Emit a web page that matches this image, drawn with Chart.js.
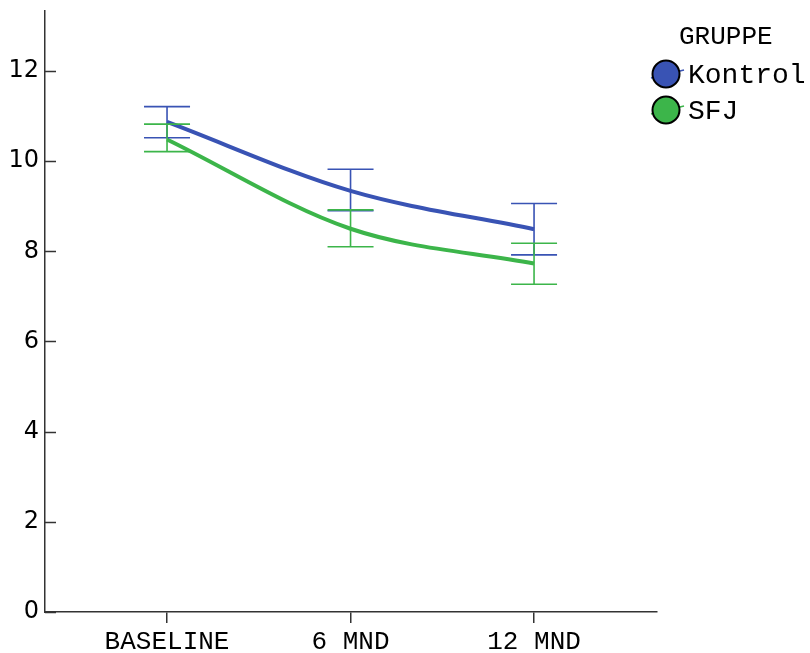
<!DOCTYPE html>
<html>
<head>
<meta charset="utf-8">
<script src="https://cdn.jsdelivr.net/npm/chart.js@4"></script>
<style>
html,body{margin:0;padding:0;background:#fff;}
#wrap{width:810px;height:653px;position:relative;}
</style>
</head>
<body>
<div id="wrap"><canvas id="c" width="810" height="653"></canvas></div>
<script>
const categories = ["BASELINE", "6 MND", "12 MND"];
const yTicks = [0, 2, 4, 6, 8, 10, 12];
const legendTitle = "GRUPPE";
const kontrolMean = [10.87, 9.34, 8.49];
const kontrolLow  = [10.52, 8.90, 7.92];
const kontrolHigh = [11.21, 9.82, 9.06];
const sfjMean = [10.48, 8.50, 7.73];
const sfjLow  = [10.21, 8.10, 7.27];
const sfjHigh = [10.82, 8.92, 8.18];

const BLUE = "#3953b4";
const GREEN = "#3cb54a";
const AXIS = "#333333";

const series = [
  {label: "Kontrol", mean: kontrolMean, low: kontrolLow, high: kontrolHigh, color: BLUE},
  {label: "SFJ", mean: sfjMean, low: sfjLow, high: sfjHigh, color: GREEN}
];

const errorBars = {
  id: "errorBars",
  afterDatasetsDraw(chart) {
    const ctx = chart.ctx, xs = chart.scales.x, ys = chart.scales.y;
    ctx.save();
    series.forEach(s => {
      ctx.strokeStyle = s.color;
      ctx.lineWidth = 1.6;
      s.mean.forEach((m, i) => {
        const x = xs.getPixelForValue(i);
        const yl = ys.getPixelForValue(s.low[i]);
        const yh = ys.getPixelForValue(s.high[i]);
        ctx.beginPath();
        ctx.moveTo(x, yl); ctx.lineTo(x, yh);
        ctx.moveTo(x - 23, yl); ctx.lineTo(x + 23, yl);
        ctx.moveTo(x - 23, yh); ctx.lineTo(x + 23, yh);
        ctx.stroke();
      });
    });
    ctx.restore();
  }
};

const extras = {
  id: "extras",
  afterDraw(chart) {
    const ctx = chart.ctx, ys = chart.scales.y, area = chart.chartArea;
    ctx.save();
    ctx.strokeStyle = AXIS;
    ctx.lineWidth = 1.5;
    yTicks.forEach(v => {
      const y = Math.round(ys.getPixelForValue(v)) + 0.5;
      ctx.beginPath();
      ctx.moveTo(area.left, y); ctx.lineTo(area.left + 11, y);
      ctx.stroke();
    });
    ctx.fillStyle = "#000";
    ctx.textBaseline = "middle";
    ctx.textAlign = "left";
    ctx.font = "26px 'Liberation Mono'";
    ctx.fillText(legendTitle, 679, 37);
    ctx.font = "28px 'Liberation Mono'";
    series.forEach((s, i) => {
      const cy = 74 + i * 36, cx = 666;
      ctx.strokeStyle = s.color;
      ctx.lineWidth = 1.5;
      ctx.beginPath();
      ctx.moveTo(cx - 15, cy + 4); ctx.lineTo(cx + 18, cy - 4);
      ctx.stroke();
      ctx.beginPath();
      ctx.arc(cx, cy, 13.5, 0, Math.PI * 2);
      ctx.fillStyle = s.color;
      ctx.fill();
      ctx.strokeStyle = "#000";
      ctx.lineWidth = 2;
      ctx.stroke();
      ctx.fillStyle = "#000";
      ctx.fillText(s.label, 688, cy + 2);
    });
    ctx.restore();
  }
};

new Chart(document.getElementById("c"), {
  type: "line",
  data: {
    datasets: series.map(s => ({
      label: s.label,
      data: s.mean.map((v, i) => ({x: i, y: v})),
      borderColor: s.color,
      backgroundColor: s.color,
      borderWidth: 4,
      pointRadius: 0,
      cubicInterpolationMode: "monotone",
      fill: false
    }))
  },
  options: {
    responsive: false,
    animation: false,
    layout: {padding: {top: 11, right: 153, left: 0, bottom: 0}},
    plugins: {legend: {display: false}, tooltip: {enabled: false}},
    scales: {
      x: {
        type: "linear",
        min: -0.665,
        max: 2.67,
        afterBuildTicks(scale) { scale.ticks = categories.map((c, i) => ({value: i})); },
        afterFit(scale) { scale.height = 41; scale.paddingLeft = 0; scale.paddingRight = 0; },
        ticks: {
          callback: (v) => categories[v] ?? "",
          font: {family: "'Liberation Mono'", size: 26},
          color: "#000",
          padding: 4,
          maxRotation: 0,
          autoSkip: false
        },
        grid: {display: true, drawOnChartArea: false, tickLength: 11, color: AXIS, lineWidth: 1.5},
        border: {display: true, color: AXIS, width: 1.5}
      },
      y: {
        type: "linear",
        min: 0,
        max: 13.33,
        afterBuildTicks(scale) { scale.ticks = yTicks.map(v => ({value: v})); },
        afterFit(scale) { scale.width = 45; scale.paddingTop = 0; scale.paddingBottom = 0; },
        ticks: {
          font: {family: "'DejaVu Sans'", size: 24},
          color: "#000",
          padding: 6
        },
        grid: {display: false, tickLength: 0},
        border: {display: true, color: AXIS, width: 1.5}
      }
    }
  },
  plugins: [errorBars, extras]
});
</script>
</body>
</html>
